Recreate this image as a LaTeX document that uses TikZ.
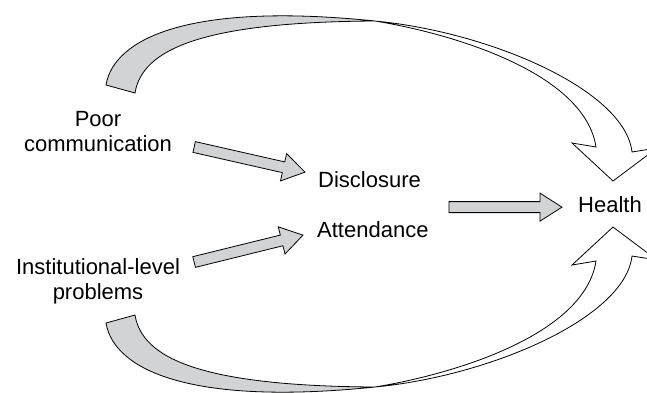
\documentclass[tikz,border=0pt]{standalone}
\usepackage{fontspec}
\setmainfont{Liberation Sans}
\usepackage{tikz}
\usetikzlibrary{calc}
\usetikzlibrary{positioning}
\definecolor{ribbongray}{RGB}{210,211,213}
\tikzstyle{txt} = [inner sep=0pt, font=\fontsize{22}{25}\selectfont, align=center]
\tikzstyle{fat} = [draw, fill=ribbongray, line width=0.8pt, line join=miter]
\tikzstyle{ribbon} = [draw, fill=ribbongray, line width=0.8pt]
\tikzstyle{ribbonw} = [draw, fill=white, line width=0.8pt, line join=miter]
% block arrow from #1 to #2
\newcommand\fatarrow[2]{%
  \path [fat] ($(#1)!5.5pt!90:(#2)$) -- ($(#2)!22pt!(#1)!5.5pt!-90:(#1)$)
    -- ($(#2)!22pt!(#1)!14pt!-90:(#1)$) -- (#2)
    -- ($(#2)!22pt!(#1)!14pt!90:(#1)$) -- ($(#2)!22pt!(#1)!5.5pt!90:(#1)$)
    -- ($(#1)!5.5pt!-90:(#2)$) -- cycle;}
% twisted arc towards health
\newcommand\bigarc{%
  \path [ribbon] (106,85) .. controls (114,38) and (190,2) .. (375,21)
    .. controls (200,22) and (142,50) .. (135,93) -- cycle;
  \path [ribbonw] (375,21) .. controls (490,32) and (625,90) .. (632,152)
    -- (657,148) -- (613,181) -- (572,143) -- (596,147)
    .. controls (585,75) and (460,35) .. (375,21) -- cycle;}

\begin{document}
\begin{tikzpicture}[x=1pt, y=-1pt]
	\fill [white] (0,0) rectangle (647,392);
	\useasboundingbox (0,0) rectangle (647,392);

	\node [txt] (poor) at (98,132) {Poor\\communication};
	\node [txt] (inst) at (98,281) {Institutional-level\\problems};
	\node [txt, anchor=base west] (disc) at (318,187) {Disclosure};
	\node [txt, anchor=base west] (att) at (317,237) {Attendance};
	\node [txt, anchor=base west] (health) at (578,212) {Health};

	\coordinate (poor-out) at ([shift={(22,15)}]poor.east);
	\coordinate (disc-in) at ([shift={(-13,-7)}]disc.west);
	\coordinate (inst-out) at ([shift={(14,-19)}]inst.east);
	\coordinate (att-in) at ([shift={(-14,6)}]att.west);
	\coordinate (da-out) at ($(disc.east)!0.5!(att.east)+(24,3)$);
	\coordinate (health-in) at ([shift={(-16,3)}]health.west);

	\fatarrow{poor-out}{disc-in}
	\fatarrow{inst-out}{att-in}
	\fatarrow{da-out}{health-in}

	\bigarc
	\begin{scope}[shift={(0,408)}, yscale=-1]
	\bigarc
	\end{scope}
\end{tikzpicture}
\end{document}
